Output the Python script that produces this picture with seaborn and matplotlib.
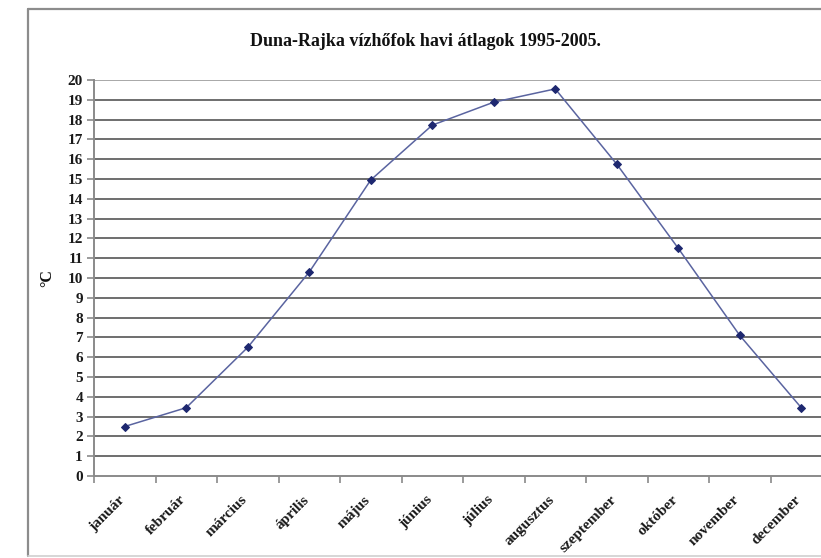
import numpy as np
import pandas as pd
import matplotlib
matplotlib.use("Agg")
import matplotlib.pyplot as plt
from matplotlib.lines import Line2D
from matplotlib.transforms import ScaledTranslation
import seaborn as sns

# Monthly mean water temperature, Danube at Rajka, 1995-2005
months = ["január", "február", "március", "április", "május", "június",
          "július", "augusztus", "szeptember", "október", "november", "december"]
temps = [2.5, 3.45, 6.5, 10.3, 14.95, 17.72, 18.88, 19.55, 15.75, 11.5, 7.1, 3.45]
yticks = list(range(0, 21))

title = "Duna-Rajka vízhőfok havi átlagok 1995-2005."
ylabel = "°C"

df = pd.DataFrame({"month": months, "temp": temps, "idx": range(len(months))})

sns.set_theme(style="white")
plt.rcParams["font.family"] = ["Liberation Serif", "DejaVu Serif"]
plt.rcParams["font.weight"] = "bold"

W, H, DPI = 821, 558, 100
fig = plt.figure(figsize=(W / DPI, H / DPI), dpi=DPI)
fig.patch.set_facecolor("white")

# plot area in pixels
left_px, top_px, bottom_px = 94, 80, 476
cat_w = 61.5
ax = fig.add_axes([left_px / W, (H - bottom_px) / H,
                   12 * cat_w / W, (bottom_px - top_px) / H])
ax.set_facecolor("white")

# horizontal gridlines
for v in yticks[1:]:
    ax.axhline(v, color="#555555" if v < 20 else "#9a9a9a", lw=1.2, zorder=1)

sns.lineplot(data=df, x="idx", y="temp", color="#5a64a0", lw=1.1,
             marker="D", markersize=4, markerfacecolor="#1e2870",
             markeredgecolor="#1e2870", ax=ax, zorder=4, legend=False)

ax.set_xlim(-0.5, 11.5)
ax.set_ylim(0, 20)

# axes spines
for s in ["top", "right"]:
    ax.spines[s].set_visible(False)
for s in ["left", "bottom"]:
    ax.spines[s].set_color("#8a8a8a")
    ax.spines[s].set_linewidth(1.4)

ax.set_yticks(yticks)
ax.set_yticklabels([str(v) for v in yticks], fontsize=11, fontweight="bold",
                   color="#1a1a1a")
ax.tick_params(axis="y", which="major", length=5, width=1.2, color="#8a8a8a",
               pad=3, left=True)

ax.set_xticks(range(len(months)))
ax.set_xticklabels(months, rotation=45, ha="right", rotation_mode="anchor",
                   fontsize=11, fontweight="bold", color="#1a1a1a")
ax.tick_params(axis="x", which="major", length=0, pad=13)
shift = ScaledTranslation(-7 / DPI, 1 / DPI, fig.dpi_scale_trans)
for lbl in ax.get_xticklabels():
    lbl.set_transform(lbl.get_transform() + shift)
ax.set_xticks(np.arange(-0.5, 12.0, 1.0), minor=True)
ax.tick_params(axis="x", which="minor", length=5, width=1.2, color="#8a8a8a",
               bottom=True)

ax.set_xlabel("")
ax.set_ylabel("")

fig.text(425 / W, 1 - 42 / H, title, ha="center", va="center",
         fontsize=13, fontweight="bold", color="#111111")
fig.text(47 / W, 1 - 278 / H, ylabel, ha="center", va="center", rotation=90,
         fontsize=11.5, fontweight="bold", color="#111111")

# chart border
border = dict(color="#8c8c8c", lw=1.6, transform=None)
fig.add_artist(Line2D([28, 830], [H - 9, H - 9], **border))
fig.add_artist(Line2D([28, 28], [H - 9, H - 556], **border))
fig.add_artist(Line2D([28, 830], [H - 556, H - 556], color="#d0d0d0", lw=1.2,
                      transform=None))

fig.savefig("out.png", dpi=DPI, facecolor="white")
